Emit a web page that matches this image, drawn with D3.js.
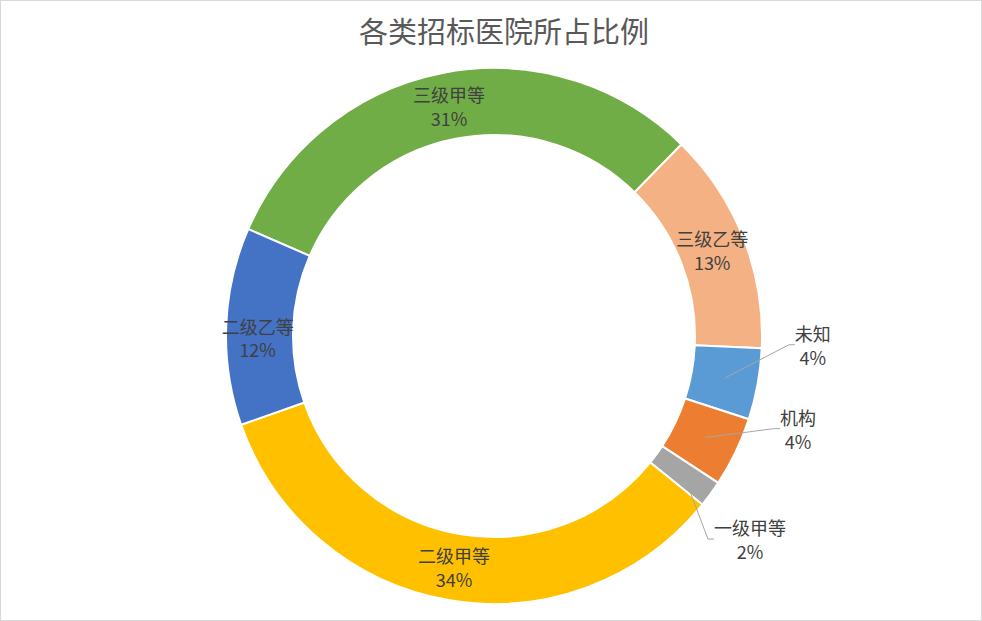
<!DOCTYPE html>
<html><head><meta charset="utf-8">
<script src="https://cdn.jsdelivr.net/npm/d3@7/dist/d3.min.js"></script>
<style>
html,body{margin:0;padding:0;background:#fff;}
svg{display:block;font-family:"Microsoft YaHei","Noto Sans CJK SC","Noto Sans",sans-serif;}
</style></head>
<body><svg id="chart" width="982" height="621"></svg>
<script>
// ---- data ----
const title = "各类招标医院所占比例";
const categories = ["三级甲等","三级乙等","未知","机构","一级甲等","二级甲等","二级乙等"];
const values = [30.8, 13.4, 4.3, 4.2, 1.6, 33.8, 11.9];
const colors = ["#70AD47","#F4B183","#5B9BD5","#ED7D31","#A5A5A5","#FFC000","#4472C4"];

// ---- layout ----
const W = 982, H = 621;
const cx = 494, cy = 336, R = 268, r = 201;
const startDeg = -66.5;
// outside label placement (polar anchor, degrees clockwise from top)
const outside = {"未知": 91.7, "机构": 108.3, "一级甲等": 133.5};
const labelR = 295;
// small nudges for inside labels (best-fit placement)
const nudge = {"二级乙等": [-2, 10]};
const fs = 18;

const svg = d3.select("#chart");
svg.append("rect").attr("x",0.5).attr("y",0.5).attr("width",W-1).attr("height",H-1)
  .attr("fill","#fff").attr("stroke","#d9d9d9").attr("stroke-width",1);

svg.append("text").attr("x",504).attr("y",30).attr("text-anchor","middle")
  .attr("dominant-baseline","central").attr("font-size",29).attr("fill","#595959").text(title);

const data = categories.map((c,i)=>({name:c, value:values[i], color:colors[i]}));
const total = d3.sum(values);
const rad = d => d*Math.PI/180;
const pie = d3.pie().value(d=>d.value).sort(null)
  .startAngle(rad(startDeg)).endAngle(rad(startDeg+360));
const arc = d3.arc().innerRadius(r).outerRadius(R);
const arcs = pie(data);

const g = svg.append("g").attr("transform",`translate(${cx},${cy})`);
g.selectAll("path").data(arcs).join("path")
  .attr("d",arc).attr("fill",d=>d.data.color)
  .attr("stroke","#fff").attr("stroke-width",2).attr("stroke-linejoin","miter");

const pct = d => Math.round(d.value/total*100)+"%";

function label(x, y, name, p) {
  g.append("text").attr("x",x).attr("y",y-12).attr("text-anchor","middle")
    .attr("dominant-baseline","central").attr("font-size",fs).attr("fill","#404040").text(name);
  g.append("text").attr("x",x).attr("y",y+12).attr("text-anchor","middle")
    .attr("dominant-baseline","central").attr("font-size",fs).attr("fill","#404040").text(p);
}

arcs.forEach(d=>{
  const name = d.data.name;
  const c = arc.centroid(d);
  if (outside[name] !== undefined) {
    const a = rad(outside[name]);
    const ax = labelR*Math.sin(a), ay = -labelR*Math.cos(a);
    g.append("path").attr("d",`M${c[0]},${c[1]}L${ax},${ay}L${ax+6},${ay}`)
      .attr("fill","none").attr("stroke","#a6a6a6").attr("stroke-width",1);
    const nameW = name.length*fs;
    label(ax + 6 + nameW/2, ay, name, pct(d.data));
  } else {
    const n = nudge[name] || [0,0];
    label(c[0] + n[0], c[1] + n[1], name, pct(d.data));
  }
});
</script></body></html>
